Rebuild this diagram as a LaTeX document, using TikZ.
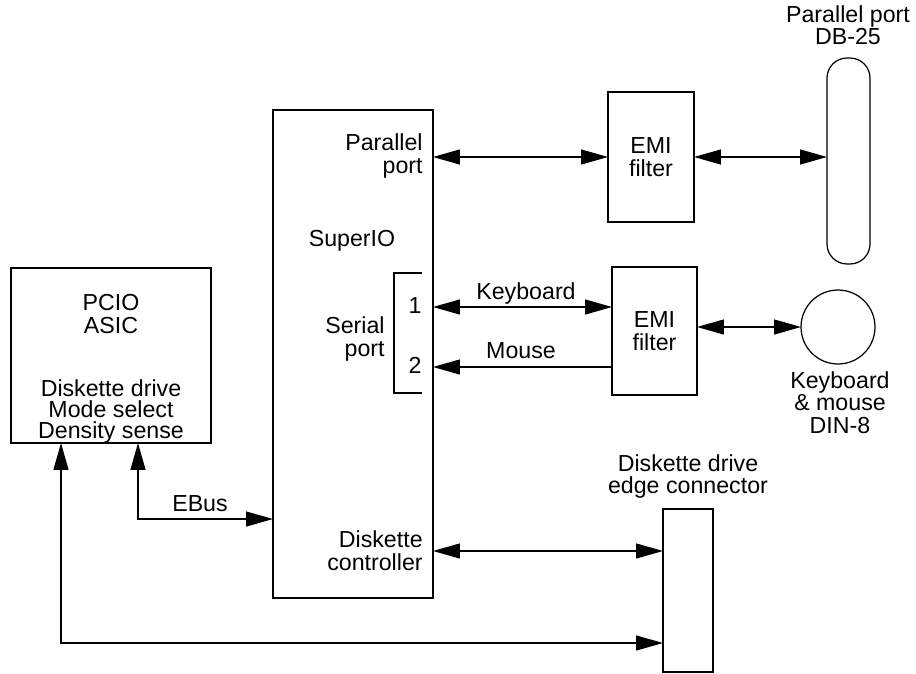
\documentclass[tikz,border=0pt]{standalone}
\usepackage{fontspec}
\setmainfont{Liberation Sans}
\usetikzlibrary{arrows.meta,positioning}
\newcommand\iofont{\fontsize{13.2}{13}\selectfont}
\tikzset{
 io box/.style={draw,line width=.7pt,inner sep=0pt,outer sep=0pt,
                align=center,font=\iofont},
 io link/.style={line width=.7pt},
 io both/.style={io link,{Triangle[length=.54cm,width=.3cm]}-{Triangle[length=.54cm,width=.3cm]}},
 io one/.style={io link,-{Triangle[length=.54cm,width=.3cm]}},
 io text/.style={font=\iofont,inner sep=0pt,anchor=base}
}
\begin{document}
\begin{tikzpicture}[x=.02cm,y=-.02cm]
 \useasboundingbox (0,0) rectangle (916,673);
 % blocks
 \node[io box,minimum width=4cm,minimum height=3.5cm] (pcio) at (111,355.5) {};
 \node[io box,minimum width=3.2cm,minimum height=9.76cm] (sio) at (353,354) {};
 \node[io box,minimum width=1.72cm,minimum height=2.6cm] (emi1) at (651,157) {EMI\\filter};
 \node[io box,minimum width=1.7cm,minimum height=2.56cm] (emi2) at (654.5,331) {EMI\\filter};
 \node[io box,minimum width=.86cm,minimum height=4.12cm,rounded corners=.4cm] (db25) at (848.5,161) {};
 \node[io box,circle,minimum size=1.48cm] (din) at (838,327) {};
 \node[io box,minimum width=1cm,minimum height=3.26cm] (edge) at (688,590.5) {};
 % texts in the PCIO block
 \node[io text] (pcioname) at (111,310) {PCIO};
 \node[io text] (asic) at (111,333) {ASIC};
 \foreach \t/\y [count=\k] in {Diskette drive/396,Mode select/417,Density sense/438}
   \node[io text] (fdl\k) at (111,\y) {\t};
 % texts in the SuperIO block
 \node[io text,anchor=base east] (par) at (423,150) {Parallel};
 \node[io text,anchor=base east] (parport) at (423,173) {port};
 \node[io text] (super) at (352,246) {SuperIO};
 \node[io text,anchor=base east] (ser) at (385,333) {Serial};
 \node[io text,anchor=base east] (serport) at (385,356) {port};
 \node[io text] (one) at (415,313) {1};
 \node[io text] (two) at (415,373) {2};
 \node[io text,anchor=base east] (fdc) at (423,547) {Diskette};
 \node[io text,anchor=base east] (fdcc) at (423,570) {controller};
 \draw[io link] (422,273) -| (394,393) -- (422,393);
 % outside labels
 \node[io text] (kbdlabel) at (526,299) {Keyboard};
 \node[io text] (mselabel) at (521,358) {Mouse};
 \node[io text] (ebuslabel) at (200,511) {EBus};
 \node[io text] (pplabel) at (848,22) {Parallel port};
 \node[io text] (dblabel) at (848,44) {DB-25};
 \foreach \t/\y [count=\k] in {Keyboard/388,\& mouse/410,DIN-8/433}
   \node[io text] (dinl\k) at (840,\y) {\t};
 \node[io text] (edgel1) at (688,471) {Diskette drive};
 \node[io text] (edgel2) at (688,493) {edge connector};
 % levels of the connectors
 \coordinate (kbd) at (0,307);
 \coordinate (mse) at (0,367);
 \coordinate (flp) at (0,551);
 \coordinate (ebus) at (138,519);
 \coordinate (fdd) at (61,643);
 % connectors
 \draw[io both] (sio.east |- emi1.west) -- (emi1.west);
 \draw[io both] (emi1.east) -- (emi1.east -| db25.west);
 \draw[io both] (sio.east |- kbd) -- (emi2.west |- kbd);
 \draw[io one] (emi2.west |- mse) -- (sio.east |- mse);
 \draw[io both] (emi2.east |- din.west) -- (din.west);
 \draw[io both] (sio.east |- flp) -- (edge.west |- flp);
 \draw[io both] (pcio.south -| ebus) |- (sio.west |- ebus);
 \draw[io both] (pcio.south -| fdd) |- (edge.west |- fdd);
\end{tikzpicture}
\end{document}
